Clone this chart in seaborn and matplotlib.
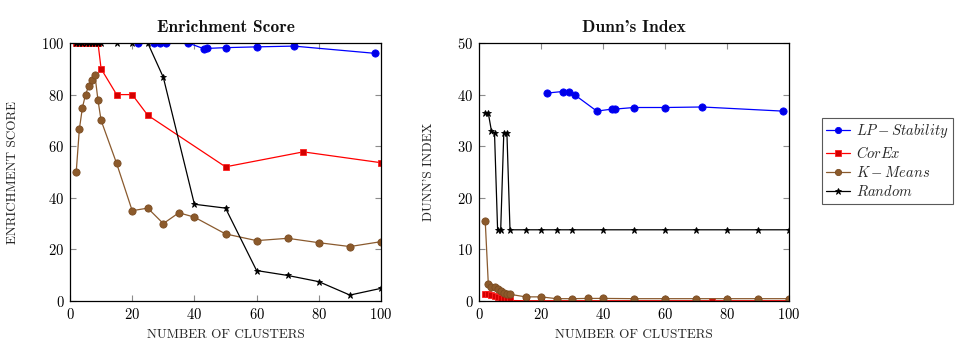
import matplotlib
matplotlib.use("Agg")
import matplotlib.pyplot as plt
import seaborn as sns
import numpy as np

# ---------------- data ----------------
lp_x = [22, 27, 29, 31, 38, 43, 44, 50, 60, 72, 98]
lp_es = [100, 100, 100, 100, 100, 97.8, 97.9, 98.2, 98.5, 98.8, 96.0]
lp_dunn = [40.3, 40.6, 40.6, 39.9, 36.8, 37.2, 37.2, 37.5, 37.5, 37.6, 36.8]

corex_x = [2, 3, 4, 5, 6, 7, 8, 9, 10, 15, 20, 25, 50, 75, 100]
corex_es = [100, 100, 100, 100, 100, 100, 100, 100, 90, 80, 80, 72, 52, 57.8, 53.6]
corex_dunn = [1.4, 1.4, 1.1, 0.9, 0.7, 0.5, 0.35, 0.2, 0.1, 0.05, 0.05, 0.05, 0.05, 0.05, 0.05]

kmeans_x = [2, 3, 4, 5, 6, 7, 8, 9, 10, 15, 20, 25, 30, 35, 40, 50, 60, 70, 80, 90, 100]
kmeans_es = [50, 66.5, 75, 80, 83.3, 85.5, 87.7, 77.8, 70, 53.3, 35, 36, 30, 34.2, 32.5,
             26, 23.4, 24.3, 22.6, 21.1, 23]
kmeans_dunn = [15.6, 3.35, 2.8, 2.8, 2.3, 1.95, 1.6, 1.4, 1.3, 0.8, 0.8, 0.45, 0.45, 0.5,
               0.5, 0.45, 0.45, 0.45, 0.45, 0.45, 0.45]

random_x = [2, 3, 4, 5, 6, 7, 8, 9, 10, 15, 20, 25, 30, 40, 50, 60, 70, 80, 90, 100]
random_es = [100, 100, 100, 100, 100, 100, 100, 100, 100, 100, 100, 100, 86.7, 37.5, 36,
             11.8, 9.9, 7.5, 2.3, 4.9]
random_dunn = [36.4, 36.4, 33.0, 32.6, 13.8, 13.8, 32.6, 32.6, 13.8, 13.8, 13.8, 13.8, 13.8,
               13.8, 13.8, 13.8, 13.8, 13.8, 13.8, 13.8]

series_names = [r"$LP-Stability$", r"$CorEx$", r"$K-Means$", r"$Random$"]
panel_titles = ["Enrichment Score", "Dunn's Index"]
x_label = "Number of Clusters"
y_labels = ["Enrichment Score", "Dunn's Index"]

# ---------------- style ----------------
sns.set_theme(style="ticks")
plt.rcParams["font.family"] = ["cmr10", "DejaVu Serif"]
plt.rcParams["mathtext.fontset"] = "cm"
plt.rcParams["axes.formatter.use_mathtext"] = True
plt.rcParams["axes.unicode_minus"] = False

styles = [
    dict(color="#0000ff", marker="o", mfc="#0000e6", mec="#0000ff", ms=5.2),
    dict(color="#ff0000", marker="s", mfc="#d40000", mec="#ff2020", ms=4.8),
    dict(color="#8a5a2e", marker="o", mfc="#8c5a2b", mec="#7a4c22", ms=5.2),
    dict(color="#000000", marker="*", mfc="#000000", mec="#000000", ms=5.0),
]

fig = plt.figure(figsize=(9.64, 3.43), dpi=100)
W, H = 964, 343
ax1 = fig.add_axes([70 / W, (H - 301) / H, 311 / W, 258 / H])
ax2 = fig.add_axes([479 / W, (H - 301) / H, 310 / W, 258 / H])

def smallcaps(s):
    return s.upper()

for ax, idx in [(ax1, 0), (ax2, 1)]:
    xs = [lp_x, corex_x, kmeans_x, random_x]
    ys = ([lp_es, corex_es, kmeans_es, random_es] if idx == 0
          else [lp_dunn, corex_dunn, kmeans_dunn, random_dunn])
    for name, x, y, st in zip(series_names, xs, ys, styles):
        sns.lineplot(x=x, y=y, ax=ax, color=st["color"], linewidth=0.9,
                     marker=st["marker"], markersize=st["ms"],
                     markerfacecolor=st["mfc"], markeredgecolor=st["mec"],
                     markeredgewidth=0.6, label=name, legend=False)
    ax.set_xlim(0, 100)
    ax.set_xticks([0, 20, 40, 60, 80, 100])
    if idx == 0:
        ax.set_ylim(0, 100)
        ax.set_yticks([0, 20, 40, 60, 80, 100])
    else:
        ax.set_ylim(0, 50)
        ax.set_yticks([0, 10, 20, 30, 40, 50])
    ax.tick_params(direction="in", top=True, right=True, length=4, width=0.8,
                   color="0.55", labelsize=10.5, pad=4, labelcolor="black")
    for sp in ax.spines.values():
        sp.set_visible(True)
        sp.set_color("black")
        sp.set_linewidth(0.9)
    ax.set_title(panel_titles[idx], fontsize=12.5, family=["cmb10", "DejaVu Serif"],
                 fontweight="bold", pad=8, color="#111111")
    ax.set_xlabel(smallcaps(x_label), fontsize=9.5, labelpad=5)
    ax.set_ylabel(smallcaps(y_labels[idx]), fontsize=9.5, labelpad=16)
    ax.grid(False)

handles, labels = ax1.get_legend_handles_labels()
leg = fig.legend(handles, labels, loc="upper left",
                 bbox_to_anchor=(822 / W, (H - 118) / H),
                 bbox_transform=fig.transFigure, borderaxespad=0,
                 fontsize=10.5, frameon=True, fancybox=False, framealpha=1,
                 edgecolor="0.35", handlelength=1.6, handletextpad=0.4,
                 labelspacing=0.3, borderpad=0.3)
leg.get_frame().set_linewidth(0.8)
for h in leg.legend_handles:
    h.set_markersize(4.5)

fig.savefig("out.png", dpi=100)
